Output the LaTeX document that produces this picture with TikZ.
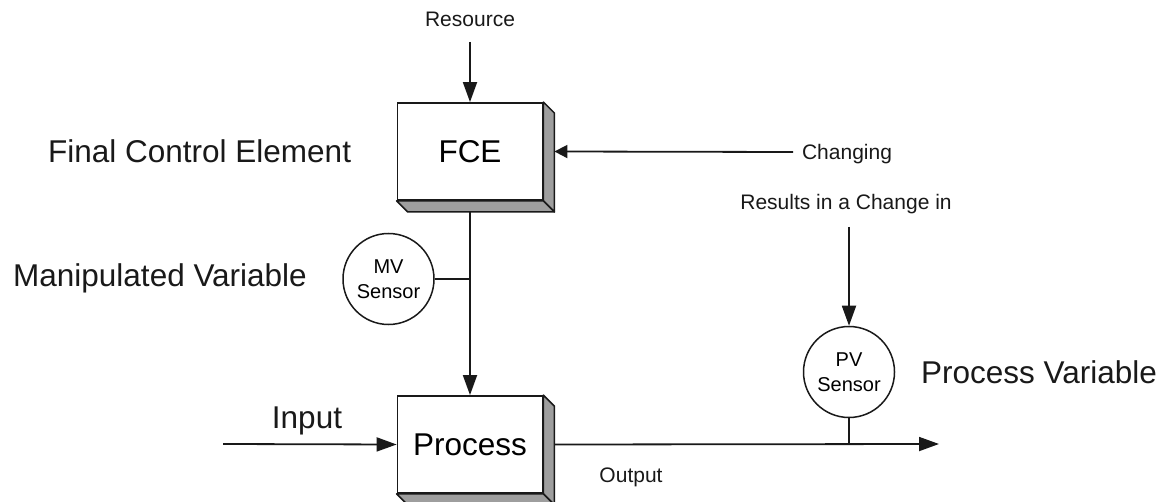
\documentclass[tikz,border=0pt]{standalone}
\usepackage{fontspec}
\setmainfont{Liberation Sans}
\usetikzlibrary{arrows.meta,calc}
\definecolor{shade}{RGB}{158,158,158}
\definecolor{ink}{RGB}{25,25,25}

\tikzset{
  blockbox/.style={draw=ink, line width=1.8pt, fill=white, minimum width=145pt,
    minimum height=97pt, inner sep=0pt, font=\fontsize{31.5}{36}\selectfont},
  sensor/.style={circle, draw=ink, line width=1.5pt, fill=white, minimum size=91pt,
    inner sep=0pt, align=center, font=\fontsize{20}{25}\selectfont},
  bigtext/.style={inner sep=0pt, text=ink, font=\fontsize{31.5}{36}\selectfont},
  smalltext/.style={inner sep=0pt, text=ink, font=\fontsize{21}{25}\selectfont},
  wire/.style={draw=ink, line width=1.8pt},
  flow/.style={wire, -{Triangle[length=20pt,width=14pt]}},
  sideflow/.style={wire, -{Triangle[length=13pt,width=13pt]}},
  shadowface/.style={fill=shade, draw=ink, line width=1.5pt, line join=round}
}

\newcommand{\boxshadow}[1]{%
  \filldraw[shadowface] (#1.north east) -- ++(11,11) -- ($(#1.south east)+(11,11)$)
      -- (#1.south east) -- cycle;
  \filldraw[shadowface] (#1.south west) -- ++(11,11) -- ($(#1.south east)+(11,11)$)
      -- (#1.south east) -- cycle;
}

\begin{document}
\begin{tikzpicture}[x=1pt,y=-1pt]
\useasboundingbox (0,0) rectangle (1166,502);

% blocks
\node[blockbox] (fce)  at (470,151.5) {FCE};
\node[blockbox] (proc) at (470,444.5) {Process};
\boxshadow{fce}
\boxshadow{proc}

% sensors
\node[sensor] (mv) at (388.5,279) {MV\\Sensor};
\node[sensor] (pv) at (849,372) {PV\\Sensor};

% free ends of the connectors
\coordinate (resin)  at (470,42);
\coordinate (chgin)  at (793,152);
\coordinate (resuin) at (849,227);
\coordinate (inpin)  at (223,444);
\coordinate (outend) at (939,444);

% connectors
\draw[flow] (resin) -- (fce.north);
\draw[sideflow] (chgin) -- ($(fce.east)+(11,0)$);
\draw[flow] ($(fce.south)+(0,11)$) -- (proc.north);
\draw[wire] (mv.east) -- (mv.east -| fce.south);
\draw[flow] (resuin) -- (pv.north);
\draw[flow] (inpin) -- (proc.west);
\draw[flow] ($(proc.east)+(11,0)$) -- (outend);
\draw[wire] (pv.south) -- (pv.south |- outend);

% labels
\node[smalltext, anchor=base] (lres) at (470,27) {Resource};
\node[smalltext, anchor=base] (lchg) at (847,160) {Changing};
\node[smalltext, anchor=base] (lresu) at (846,210) {Results in a Change in};
\node[smalltext, anchor=base] (lout) at (631,482) {Output};
\node[bigtext, anchor=base] (linp) at (307,428) {Input};
\node[bigtext, anchor=base west] (lfce) at (48,163) {Final Control Element};
\node[bigtext, anchor=base west] (lmv) at (13,287) {Manipulated Variable};
\node[bigtext, anchor=base west] (lpv) at (921,383) {Process Variable};
\end{tikzpicture}
\end{document}
